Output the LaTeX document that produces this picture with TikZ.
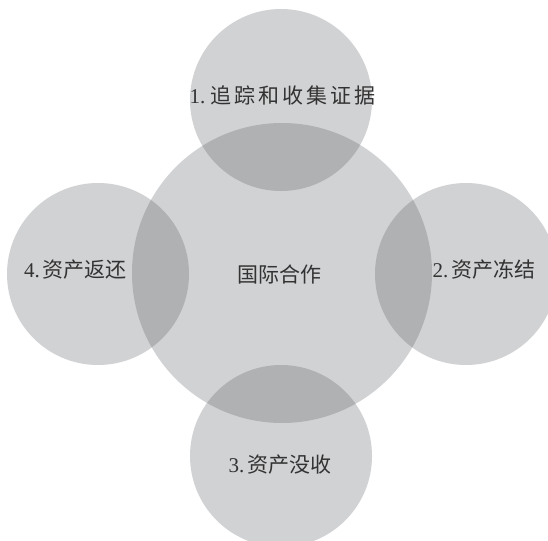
\documentclass[tikz,border=0pt]{standalone}
\usepackage{fontspec}
\setmainfont{Liberation Serif}
\newfontfamily\cjk{Noto Sans CJK SC}
\definecolor{lite}{HTML}{D1D2D4}
\definecolor{dark}{HTML}{B0B1B3}
\definecolor{txt}{HTML}{333333}
\tikzset{
  bubble/.style={circle, fill=lite, inner sep=0pt, draw=none},
  lbl/.style={text=txt, inner sep=0pt, font=\fontsize{21}{24}\selectfont}
}
\newcommand{\gapch}{\hspace{3pt}}
\begin{document}
\begin{tikzpicture}[x=1pt,y=-1pt]
\useasboundingbox (0,0) rectangle (548,540);
\node[bubble, minimum size=300pt] (ctr) at (282,273) {};
\node[bubble, minimum size=182pt] (c1) at (281,100) {};
\node[bubble, minimum size=182pt] (c2) at (466,274) {};
\node[bubble, minimum size=182pt] (c3) at (281,456) {};
\node[bubble, minimum size=182pt] (c4) at (98,274) {};
\begin{scope}
  \clip (ctr.center) circle (150pt);
  \fill[dark] (c1.center) circle (91pt);
  \fill[dark] (c2.center) circle (91pt);
  \fill[dark] (c3.center) circle (91pt);
  \fill[dark] (c4.center) circle (91pt);
\end{scope}
\node[lbl] (t0) at (279,274) {\cjk 国际合作};
\node[lbl] (t1) at (282.5,95) {1.\hspace{5pt}\cjk 追\gapch 踪\gapch 和\gapch 收\gapch 集\gapch 证\gapch 据};
\node[lbl] (t2) at (484,270) {2.\hspace{3pt}\cjk 资产冻结};
\node[lbl] (t3) at (280,465) {3.\hspace{3pt}\cjk 资产没收};
\node[lbl] (t4) at (75.5,270) {4.\hspace{3pt}\cjk 资产返还};
\end{tikzpicture}
\end{document}
